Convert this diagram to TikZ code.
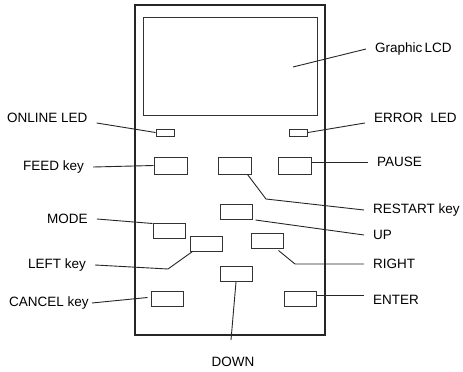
\documentclass[tikz,border=0pt]{standalone}
\usepackage{fontspec}
\setmainfont{Liberation Sans}
\usepackage{tikz}

\tikzset{
  keybox/.style={draw=black!80, line width=1pt, minimum width=32pt, minimum height=15pt, inner sep=0pt},
  ledbox/.style={draw=black!80, line width=1pt, minimum width=18pt, minimum height=7pt, inner sep=0pt},
  lbl/.style={inner xsep=9pt, inner ysep=0pt, font=\fontsize{13.5}{15}\selectfont},
  leader/.style={draw=black!85, line width=0.9pt}
}

\begin{document}
\begin{tikzpicture}[x=1pt,y=-1pt]
\useasboundingbox (0,0) rectangle (463,372);
% panel and display
\draw[line width=2.6pt, black!85] (135,5) rectangle (325,335);
\node[draw=black!80, line width=1pt, minimum width=174pt, minimum height=98pt, inner sep=0pt] (lcd) at (230,66) {};
\coordinate (lcdPt) at (293,67);
% leds
\node[ledbox] (ledOnline) at (165,132.5) {};
\node[ledbox] (ledError) at (298.5,132.5) {};
% keys
\node[keybox, minimum width=33pt, minimum height=17pt] (feed) at (170.5,165.5) {};
\node[keybox, minimum width=33pt, minimum height=17pt] (restart) at (234.5,165.5) {};
\node[keybox, minimum width=33pt, minimum height=17pt] (pause) at (294.5,165.5) {};
\node[keybox] (up) at (236,212) {};
\node[keybox] (mode) at (169,230.5) {};
\node[keybox] (left) at (206,243.5) {};
\node[keybox] (right) at (267,240.5) {};
\node[keybox] (down) at (236,274) {};
\node[keybox] (cancel) at (167,298.5) {};
\node[keybox] (enter) at (300,298.5) {};
% labels
\node[lbl, anchor=west] (lblLcd) at (366,49) {Graphic\,LCD};
\node[lbl, anchor=west] (lblOnline) at (-2,118) {ONLINE LED};
\node[lbl, anchor=west] (lblError) at (365,118) {ERROR\ \ LED};
\node[lbl, anchor=west] (lblFeed) at (14,167) {FEED key};
\node[lbl, anchor=west] (lblPause) at (368,162) {PAUSE};
\node[lbl, anchor=west] (lblRestart) at (364,210) {RESTART key};
\node[lbl, anchor=west] (lblUp) at (364,235) {UP};
\node[lbl, anchor=west] (lblMode) at (38,219) {MODE};
\node[lbl, anchor=west] (lblRight) at (364,264) {RIGHT};
\node[lbl, anchor=west] (lblLeft) at (19,265) {LEFT key};
\node[lbl, anchor=west, inner xsep=3pt] (lblCancel) at (6,303) {CANCEL key};
\node[lbl, anchor=west] (lblEnter) at (364,300) {ENTER};
\node[lbl, anchor=center] (lblDown) at (233,362) {DOWN};
% leaders
\coordinate (restartBend) at (266,199);
\coordinate (leftBend) at (168,269);
\coordinate (rightBend) at (295,264);
\coordinate (downEnd) at (231,340);
\draw[leader] (lcdPt) -- (lblLcd.west);
\draw[leader] (lblOnline.south east) -- (ledOnline.west);
\draw[leader] (ledError.east) -- (lblError.south west);
\draw[leader] (lblFeed.east) -- (feed.west);
\draw[leader] (lblPause.west) -- (lblPause.west -| pause.east);
\draw[leader] ([xshift=-4pt]restart.south east) -- (restartBend) -- (lblRestart.west);
\draw[leader] ([xshift=3pt]up.south east) -- (lblUp.west);
\draw[leader] (lblMode.east) -- ([yshift=-1pt]mode.north west);
\draw[leader] (lblLeft.east) -- (leftBend) -- ([xshift=3pt]left.south west);
\draw[leader] ([xshift=-5pt,yshift=-2pt]right.south east) -- (rightBend) -- (lblRight.west);
\draw[leader] ([yshift=3pt]enter.east) -- ([yshift=3pt]enter.east -| lblEnter.west);
\draw[leader] (lblCancel.east) -- ([xshift=-3pt,yshift=1pt]cancel.west);
\draw[leader] (down.south) -- (downEnd);
\end{tikzpicture}
\end{document}
